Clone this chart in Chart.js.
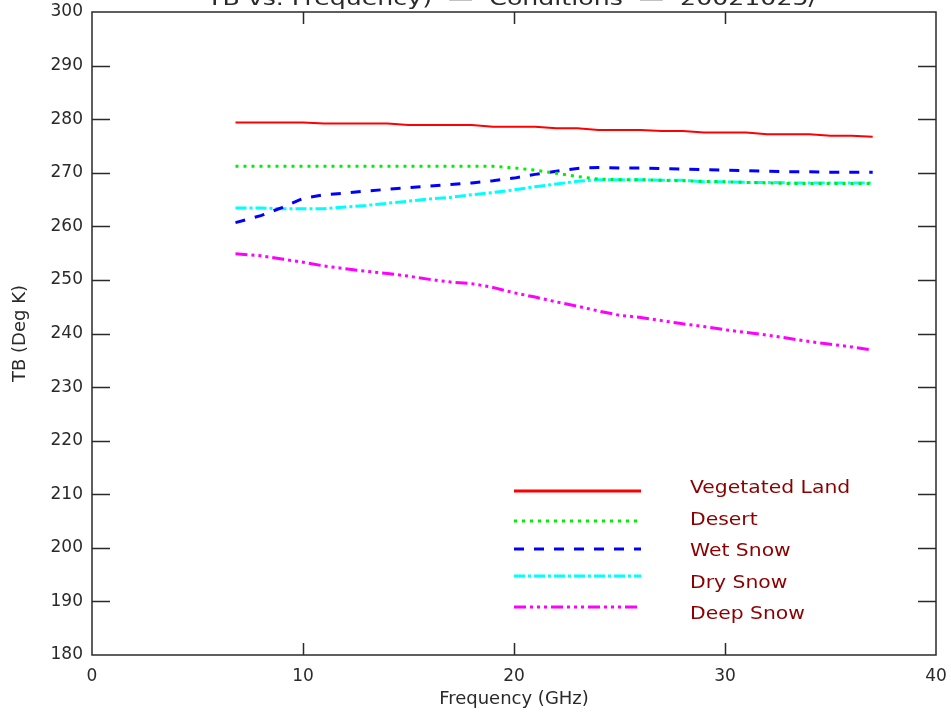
<!DOCTYPE html>
<html>
<head>
<meta charset="utf-8">
<script src="https://cdn.jsdelivr.net/npm/chart.js@4.4.1/dist/chart.umd.min.js"></script>
<style>
  html, body { margin: 0; padding: 0; background: #fff; }
  #wrap { width: 951px; height: 713px; position: relative; }
</style>
</head>
<body>
<div id="wrap"><canvas id="tbChart"></canvas></div>
<script>
// Frequencies (GHz) shared by all surface types
const freqs = [6.8, 8, 9, 10, 11, 12, 13, 14, 15, 16, 17, 18, 19, 20, 21, 22,
               23, 24, 25, 26, 27, 28, 29, 30, 31, 32, 33, 34, 35, 36, 37];

// Brightness temperature (Deg K)
const vegetatedLand = [279.4, 279.4, 279.4, 279.4, 279.2, 279.2, 279.2, 279.2, 278.9, 278.9, 278.9,
                       278.9, 278.6, 278.6, 278.6, 278.3, 278.3, 278.0, 278.0, 278.0, 277.8, 277.8,
                       277.5, 277.5, 277.5, 277.2, 277.2, 277.2, 276.9, 276.9, 276.7];
const desert = [271.2, 271.2, 271.2, 271.2, 271.2, 271.2, 271.2, 271.2, 271.2, 271.2, 271.2,
                271.2, 271.2, 270.9, 270.5, 269.9, 269.3, 268.8, 268.7, 268.7, 268.6, 268.5,
                268.4, 268.3, 268.2, 268.1, 268.0, 268.0, 268.0, 268.0, 268.0];
const wetSnow = [260.7, 262.0, 263.5, 265.2, 265.9, 266.2, 266.6, 266.9, 267.2, 267.5, 267.8,
                 268.1, 268.5, 269.0, 269.7, 270.3, 270.8, 271.0, 270.9, 270.9, 270.8, 270.7,
                 270.6, 270.5, 270.4, 270.3, 270.2, 270.2, 270.1, 270.1, 270.1];
const drySnow = [263.4, 263.4, 263.3, 263.3, 263.3, 263.6, 263.9, 264.3, 264.7, 265.1, 265.4,
                 265.9, 266.3, 266.8, 267.4, 267.9, 268.4, 268.7, 268.7, 268.7, 268.6, 268.6,
                 268.3, 268.3, 268.2, 268.2, 268.1, 268.1, 268.1, 268.1, 268.1];
const deepSnow = [254.9, 254.5, 253.9, 253.3, 252.6, 252.1, 251.6, 251.2, 250.7, 250.1, 249.6,
                  249.3, 248.6, 247.6, 246.8, 245.9, 245.1, 244.2, 243.4, 243.0, 242.4, 241.8,
                  241.3, 240.7, 240.2, 239.7, 239.1, 238.5, 238.0, 237.5, 236.9];

const seriesNames = ['Vegetated Land', 'Desert', 'Wet Snow', 'Dry Snow', 'Deep Snow'];
const xTicks = [0, 10, 20, 30, 40];
const yTicks = [180, 190, 200, 210, 220, 230, 240, 250, 260, 270, 280, 290, 300];
const titleText = 'TB vs. Frequency)  \u2014  Conditions  \u2014  20021025/';

const FONT = '"DejaVu Sans", sans-serif';
const INK = '#2a2a2a';

function pts(vals) {
    return freqs.map((f, i) => ({ x: f, y: vals[i] }));
}

const styles = [
    { color: '#ff0000', dash: [] },
    { color: '#00ee00', dash: [3, 5] },
    { color: '#0000ff', dash: [10, 10] },
    { color: '#00ffff', dash: [11, 3, 3, 3] },
    { color: '#ff00ff', dash: [12, 4, 3, 4, 3, 4, 3, 4] }
];

const allValues = [vegetatedLand, desert, wetSnow, drySnow, deepSnow];

const datasets = allValues.map((vals, i) => ({
    label: seriesNames[i],
    data: pts(vals),
    borderColor: styles[i].color,
    borderDash: styles[i].dash,
    borderWidth: i === 0 ? 2 : 3,
    pointRadius: 0,
    tension: 0,
    fill: false
}));

// stretch a string horizontally to a given width
function wideText(ctx, text, cx, y, width) {
    const w = ctx.measureText(text).width;
    ctx.save();
    ctx.translate(cx, y);
    ctx.scale(width / w, 1);
    ctx.fillText(text, 0, 0);
    ctx.restore();
}

// Frame, inward ticks, legend and clipped title
const framePlugin = {
    id: 'frame',
    afterDatasetsDraw(chart) {
        const ctx = chart.ctx;
        const a = chart.chartArea;
        const xs = chart.scales.x, ys = chart.scales.y;
        ctx.save();
        ctx.strokeStyle = INK;
        ctx.lineWidth = 1.5;
        ctx.strokeRect(a.left, a.top, a.right - a.left, a.bottom - a.top);
        ctx.beginPath();
        xTicks.slice(1, -1).forEach(v => {
            const px = Math.round(xs.getPixelForValue(v)) + 0.5;
            ctx.moveTo(px, a.bottom); ctx.lineTo(px, a.bottom - 12);
            ctx.moveTo(px, a.top); ctx.lineTo(px, a.top + 12);
        });
        yTicks.slice(1, -1).forEach(v => {
            const py = Math.round(ys.getPixelForValue(v)) + 0.5;
            ctx.moveTo(a.left, py); ctx.lineTo(a.left + 18, py);
            ctx.moveTo(a.right, py); ctx.lineTo(a.right - 18, py);
        });
        ctx.stroke();

        // legend
        const lineY = [491, 521, 549, 576, 607];
        const textY = [488, 520, 551, 583, 614];
        chart.data.datasets.forEach((ds, i) => {
            ctx.beginPath();
            ctx.strokeStyle = ds.borderColor;
            ctx.lineWidth = 3;
            ctx.setLineDash(ds.borderDash);
            ctx.moveTo(514, lineY[i]);
            ctx.lineTo(641, lineY[i]);
            ctx.stroke();
            ctx.setLineDash([]);
            ctx.fillStyle = '#8b0000';
            ctx.font = '18px ' + FONT;
            ctx.textBaseline = 'middle';
            const w = ctx.measureText(ds.label).width * 1.13;
            ctx.textAlign = 'center';
            wideText(ctx, ds.label, 690 + w / 2, textY[i], w);
        });

        // title, cut off by the top of the image
        ctx.fillStyle = INK;
        ctx.font = '19px ' + FONT;
        ctx.textAlign = 'center';
        ctx.textBaseline = 'alphabetic';
        wideText(ctx, titleText, 512, 5, 610);
        ctx.restore();
    }
};

new Chart(document.getElementById('tbChart'), {
    type: 'line',
    data: { datasets },
    options: {
        responsive: true,
        maintainAspectRatio: false,
        animation: false,
        layout: { padding: { left: 0, right: 15, top: 12, bottom: 0 } },
        plugins: {
            legend: { display: false },
            title: { display: false },
            tooltip: { enabled: false }
        },
        scales: {
            x: {
                type: 'linear',
                min: 0, max: 40,
                afterFit: s => { s.height = 58; s.paddingLeft = 0; s.paddingRight = 0; },
                afterBuildTicks: s => { s.ticks = xTicks.map(v => ({ value: v })); },
                grid: { display: false, drawTicks: false },
                border: { display: false },
                ticks: { color: INK, font: { family: FONT, size: 17 }, padding: 11, maxRotation: 0 },
                title: {
                    display: true, text: 'Frequency (GHz)', color: INK,
                    font: { family: FONT, size: 18 }, padding: { top: 0, bottom: 3 }
                }
            },
            y: {
                type: 'linear',
                min: 180, max: 300,
                afterFit: s => { s.width = 92; s.paddingTop = 0; s.paddingBottom = 0; },
                afterBuildTicks: s => { s.ticks = yTicks.map(v => ({ value: v })); },
                grid: { display: false, drawTicks: false },
                border: { display: false },
                ticks: { color: INK, font: { family: FONT, size: 17 }, padding: 9 },
                title: {
                    display: true, text: 'TB (Deg K)', color: INK,
                    font: { family: FONT, size: 18 }, padding: { top: 10, bottom: 0 }
                }
            }
        }
    },
    plugins: [framePlugin]
});
</script>
</body>
</html>
